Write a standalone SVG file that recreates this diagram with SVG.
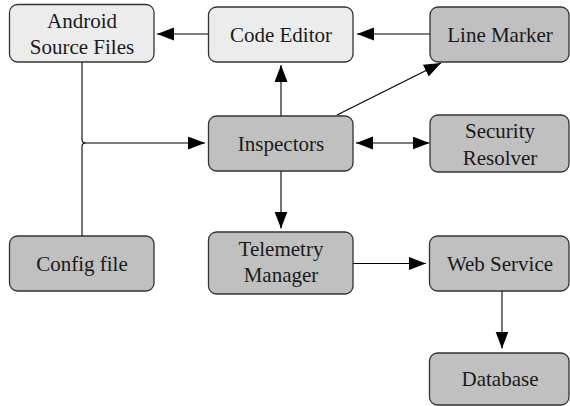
<svg xmlns="http://www.w3.org/2000/svg" width="570" height="406" viewBox="0 0 570 406">
<style>
.n rect{stroke:#333;stroke-width:1.3}
.l rect{fill:#ececec}
.d rect{fill:#c0c0c0}
text{font-family:"Liberation Serif","Times New Roman",serif;font-size:21px;fill:#1a1a1a;text-anchor:middle}
.c path,.c line{stroke:#000;stroke-width:1.1;fill:none}
</style>
<defs>
<marker id="a" markerUnits="userSpaceOnUse" markerWidth="18" markerHeight="14" refX="17" refY="6.5" orient="auto-start-reverse" viewBox="0 0 18 14">
<path d="M0,0 L17,6.5 L0,13 z" fill="#000"/>
</marker>
</defs>
<g class="c">
<line x1="208" y1="34" x2="157" y2="34" marker-end="url(#a)"/>
<line x1="430" y1="34" x2="357" y2="34" marker-end="url(#a)"/>
<line x1="281" y1="116" x2="281" y2="65" marker-end="url(#a)"/>
<line x1="337" y1="115" x2="441" y2="63" marker-end="url(#a)"/>
<line x1="356" y1="143" x2="429.5" y2="143" marker-start="url(#a)" marker-end="url(#a)"/>
<path d="M82,62 V139.5 Q82,143 85.5,143 H205" marker-end="url(#a)"/>
<path d="M82,236 V146.5 Q82,143 85.5,143"/>
<line x1="281" y1="171" x2="281" y2="228.5" marker-end="url(#a)"/>
<line x1="353" y1="263.5" x2="426" y2="263.5" marker-end="url(#a)"/>
<line x1="502" y1="291" x2="502" y2="348.5" marker-end="url(#a)"/>
</g>
<g id="android" class="n l"><rect x="9.5" y="4.5" width="144.5" height="57.5" rx="8"/><text x="82" y="27.5">Android</text><text x="82" y="53.5">Source Files</text></g>
<g id="code-editor" class="n l"><rect x="208.5" y="7" width="144.5" height="55" rx="8"/><text x="281" y="41.5">Code Editor</text></g>
<g id="line-marker" class="n d"><rect x="430" y="7" width="139" height="55" rx="8"/><text x="500" y="41.5">Line Marker</text></g>
<g id="inspectors" class="n d"><rect x="208.5" y="116" width="144.5" height="55" rx="8"/><text x="281" y="150.5">Inspectors</text></g>
<g id="security" class="n d"><rect x="430" y="115" width="139" height="57" rx="8"/><text x="500" y="138">Security</text><text x="500" y="165">Resolver</text></g>
<g id="config" class="n d"><rect x="9.5" y="236" width="144.5" height="55" rx="8"/><text x="82" y="270.5">Config file</text></g>
<g id="telemetry" class="n d"><rect x="208.5" y="232" width="144.5" height="62" rx="8"/><text x="281" y="256">Telemetry</text><text x="281" y="282">Manager</text></g>
<g id="web-service" class="n d"><rect x="429.5" y="236" width="139.5" height="55" rx="8"/><text x="500" y="270.5">Web Service</text></g>
<g id="database" class="n d"><rect x="429.5" y="353" width="139.5" height="52" rx="8"/><text x="500" y="386">Database</text></g>
</svg>
